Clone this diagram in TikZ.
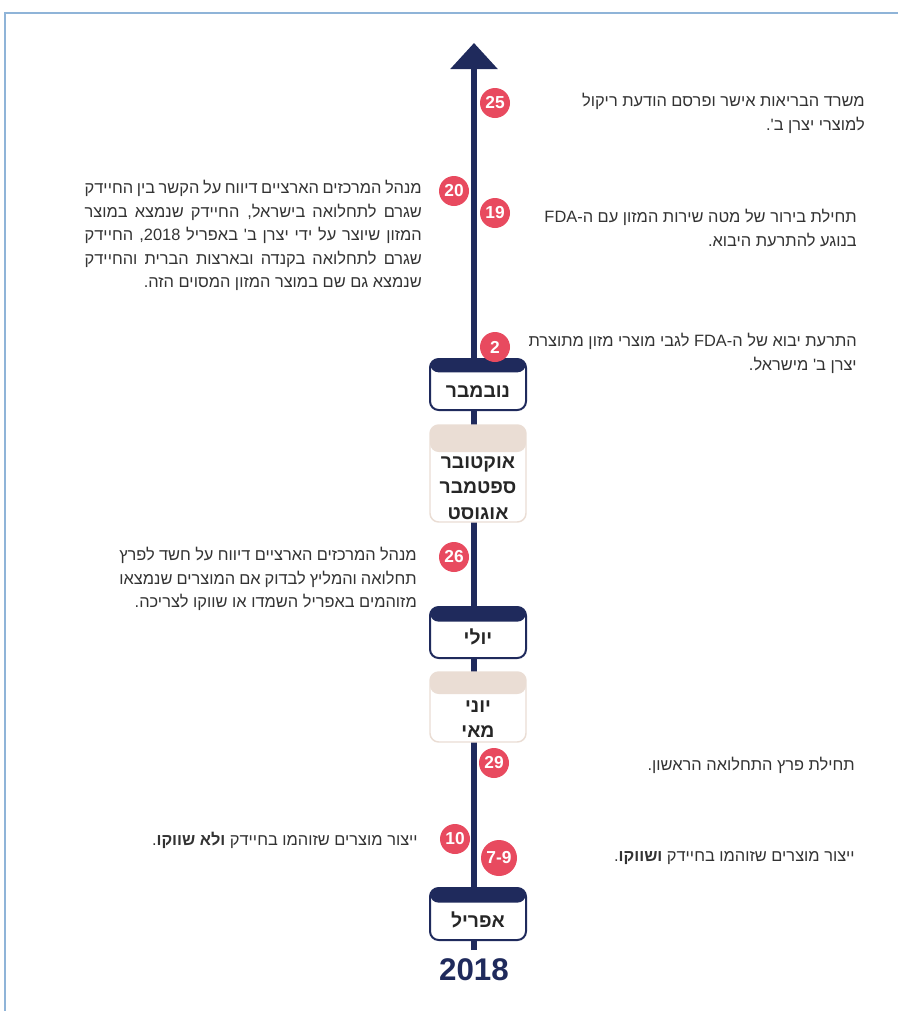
\documentclass[tikz,border=0pt]{standalone}
\usepackage{fontspec}
\setmainfont{Liberation Sans}
\newfontfamily\hebfont[Script=Hebrew]{Liberation Sans}
\TeXXeTstate=1
\usetikzlibrary{arrows.meta}

\definecolor{navy}{HTML}{1F2A5C}
\definecolor{badgered}{HTML}{E84A5F}
\definecolor{sand}{HTML}{EADDD4}
\definecolor{framebl}{HTML}{8FB4D8}
\definecolor{txtgray}{HTML}{333333}

\newcommand{\jline}[2]{\hbox to #1{#2}}

\begin{document}
\begin{tikzpicture}[x=0.75pt, y=-0.75pt]
\tikzset{ >={Triangle[length=19.5pt, width=34.5pt]},
  badge/.style={circle, fill=badgered, text=white, inner sep=0pt,
    minimum size=22.5pt, font=\bfseries\fontsize{13}{13}\selectfont},
  monthbox/.style={rounded corners=6.5pt, fill=white, inner sep=0pt,
    minimum width=72pt, line width=1.5pt},
  darkbox/.style={monthbox, draw=navy, path picture={
    \fill[navy] ([yshift=-#1]path picture bounding box.north west)
      rectangle (path picture bounding box.north east);}},
  lightbox/.style={monthbox, draw=sand, line width=1.1pt, path picture={
    \fill[sand] ([yshift=-#1]path picture bounding box.north west)
      rectangle (path picture bounding box.north east);}},
  monthtxt/.style={align=center, inner sep=0pt, text=black!85,
    font=\hebfont\bfseries\fontsize{14.5}{19}\selectfont},
  evtxt/.style={align=right, inner sep=0pt, anchor=east, text=txtgray,
    font=\hebfont\fontsize{12.3}{17.6}\selectfont},
}

\useasboundingbox (0,0) rectangle (898,1011);

% frame
\coordinate (FB) at (5,1011);
\coordinate (FC) at (5,13);
\coordinate (FR) at (898,13);
\draw [framebl, line width=1.5pt] (FB) -- (FC) -- (FR);

% time axis
\coordinate (axbot) at (474,950);
\coordinate (axtop) at (474,43);
\draw [->, navy, line width=4.5pt] (axbot) -- (axtop);

% months
\node [darkbox=10pt, minimum height=38.25pt] (nov) at (478,384.5) {};
\node [lightbox=20.25pt, minimum height=72.75pt] (oct) at (478,473.5) {};
\node [darkbox=11pt, minimum height=38.25pt] (jul) at (478,632.5) {};
\node [lightbox=16.5pt, minimum height=52.5pt] (jun) at (478,707) {};
\node [darkbox=11pt, minimum height=39pt] (apr) at (478,914) {};

\node [monthtxt] (novtxt) at (478,392) {\beginR נובמבר\endR};
\node [monthtxt] (octtxt) at (478,488) {\beginR אוקטובר\endR\\\beginR ספטמבר\endR\\\beginR אוגוסט\endR};
\node [monthtxt] (jultxt) at (478,637) {\beginR יולי\endR};
\node [monthtxt] (juntxt) at (478,719) {\beginR יוני\endR\\\beginR מאי\endR};
\node [monthtxt] (aprtxt) at (478,920) {\beginR אפריל\endR};

\node [text=navy, font=\bfseries\fontsize{23.5}{24}\selectfont] (year) at (474,970) {2018};

% days
\node [badge] (d25) at (495,103) {25};
\node [badge] (d20) at (454,191) {20};
\node [badge] (d19) at (495,213) {19};
\node [badge] (d2)  at (495,347) {2};
\node [badge] (d26) at (454,557) {26};
\node [badge] (d29) at (494,763) {29};
\node [badge] (d10) at (455,839) {10};
\node [badge, minimum size=27pt] (d79) at (499,858) {7-9};

% events
\node [evtxt] (e25) at (865,113.5) {\beginR משרד הבריאות אישר ופרסם הודעת ריקול\endR\\
  \beginR למוצרי יצרן ב'.\endR};
\node [evtxt] (e19) at (857,228) {\beginR תחילת בירור של מטה שירות המזון עם ה-FDA\endR\\
  \beginR בנוגע להתרעת היבוא.\endR};
\node [evtxt] (e2) at (857,353.5) {\beginR התרעת יבוא של ה-FDA לגבי מוצרי מזון מתוצרת\endR\\
  \beginR יצרן ב' מישראל.\endR};
\node [evtxt] (e20) at (422,235.5) {\jline{252.75pt}{\beginR מנהל המרכזים הארציים דיווח על הקשר בין החיידק\endR}\\
  \jline{252.75pt}{\beginR שגרם לתחלואה בישראל, החיידק שנמצא במוצר\endR}\\
  \jline{252.75pt}{\beginR המזון שיוצר על ידי יצרן ב' באפריל 2018, החיידק\endR}\\
  \jline{252.75pt}{\beginR שגרם לתחלואה בקנדה ובארצות הברית והחיידק\endR}\\
  \beginR שנמצא גם שם במוצר המזון המסוים הזה.\endR};
\node [evtxt] (e26) at (417,579) {\jline{223pt}{\beginR מנהל המרכזים הארציים דיווח על חשד לפרץ\endR}\\
  \jline{223pt}{\beginR תחלואה והמליץ לבדוק אם המוצרים שנמצאו\endR}\\
  \beginR מזוהמים באפריל השמדו או שווקו לצריכה.\endR};
\node [evtxt] (e29) at (855,765) {\beginR תחילת פרץ התחלואה הראשון.\endR};
\node [evtxt] (e79) at (855,858) {\beginR ייצור מוצרים שזוהמו בחיידק \textbf{ושווקו}.\endR};
\node [evtxt] (e10) at (418,840) {\beginR ייצור מוצרים שזוהמו בחיידק \textbf{ולא שווקו}.\endR};
\end{tikzpicture}
\end{document}
